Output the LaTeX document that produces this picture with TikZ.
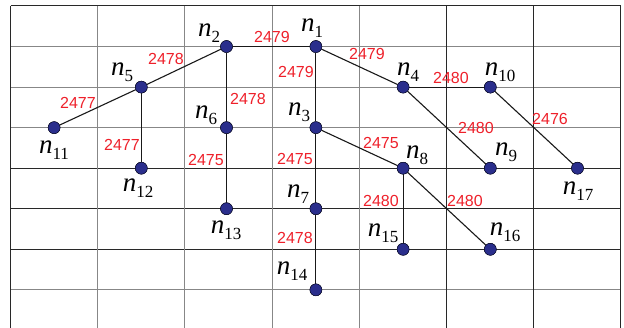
\documentclass[tikz,border=0pt]{standalone}
\usepackage{fontspec}
\setmainfont{Liberation Serif}
\newfontfamily\wfont{Liberation Sans}
\newcommand{\nlab}[1]{{\fontsize{27}{27}\selectfont\itshape n}{\fontsize{17}{17}\selectfont\raisebox{-6pt}{#1}}}
\definecolor{nodeblue}{RGB}{42,46,140}
\definecolor{wred}{RGB}{238,32,42}
\definecolor{gridgray}{RGB}{135,135,135}
\definecolor{griddark}{RGB}{40,40,40}
\begin{document}
\begin{tikzpicture}[x=1pt,y=-1pt,
  vert/.style={circle,fill=nodeblue,draw=black!80!nodeblue,line width=0.4pt,minimum size=12pt,inner sep=0pt},
  nlabel/.style={inner sep=0pt,anchor=center},
  wlabel/.style={inner sep=0pt,anchor=center,text=wred,font=\wfont\fontsize{16}{16}\selectfont},
  edge/.style={line width=1.1pt,black!90},
  gl/.style={line width=1pt,gridgray},
  gd/.style={line width=1pt,griddark}]
\useasboundingbox (0,0) rectangle (624,328);
\begin{scope}
\clip (0,0) rectangle (624,328);
% horizontal grid lines
\draw[gd] (10.5,6) -- (620.9,6);
\draw[gl] (10.5,46.55) -- (620.9,46.55);
\draw[gl] (10.5,87.1) -- (620.9,87.1);
\draw[gl] (10.5,127.65) -- (620.9,127.65);
\draw[gd] (10.5,168.2) -- (620.9,168.2);
\draw[gd] (10.5,208.75) -- (620.9,208.75);
\draw[gd] (10.5,249.3) -- (620.9,249.3);
\draw[gl] (10.5,289.85) -- (620.9,289.85);
% vertical grid lines
\draw[gd] (10.5,6) -- (10.5,330);
\draw[gl] (97.7,6) -- (97.7,330);
\draw[gl] (184.9,6) -- (184.9,330);
\draw[gl] (272.1,6) -- (272.1,330);
\draw[gl] (359.3,6) -- (359.3,330);
\draw[gd] (446.5,6) -- (446.5,330);
\draw[gd] (533.7,6) -- (533.7,330);
\draw[gd] (620.9,6) -- (620.9,330);
\end{scope}
% vertices
\node[vert] (n1)  at (315.9,46.55) {};
\node[vert] (n2)  at (226.5,46.55) {};
\node[vert] (n3)  at (315.9,127.65) {};
\node[vert] (n4)  at (403.1,87.1) {};
\node[vert] (n5)  at (141.3,87.1) {};
\node[vert] (n6)  at (226.5,127.65) {};
\node[vert] (n7)  at (315.9,208.75) {};
\node[vert] (n8)  at (403.1,168.2) {};
\node[vert] (n9)  at (490.3,168.2) {};
\node[vert] (n10) at (490.3,87.1) {};
\node[vert] (n11) at (54.1,127.65) {};
\node[vert] (n12) at (141.3,168.2) {};
\node[vert] (n13) at (226.5,208.75) {};
\node[vert] (n14) at (315.9,289.85) {};
\node[vert] (n15) at (403.1,249.3) {};
\node[vert] (n16) at (490.3,249.3) {};
\node[vert] (n17) at (577.5,168.2) {};
% edges
\draw[edge] (n2) -- (n1);
\draw[edge] (n1) -- (n4);
\draw[edge] (n4) -- (n10);
\draw[edge] (n1) -- (n3);
\draw[edge] (n3) -- (n7);
\draw[edge] (n7) -- (n14);
\draw[edge] (n2) -- (n5);
\draw[edge] (n2) -- (n6);
\draw[edge] (n6) -- (n13);
\draw[edge] (n5) -- (n11);
\draw[edge] (n5) -- (n12);
\draw[edge] (n3) -- (n8);
\draw[edge] (n4) -- (n9);
\draw[edge] (n10) -- (n17);
\draw[edge] (n8) -- (n15);
\draw[edge] (n8) -- (n16);
% redraw vertices on top
\foreach \v in {n1,n2,n3,n4,n5,n6,n7,n8,n9,n10,n11,n12,n13,n14,n15,n16,n17}
  \fill[nodeblue,draw=black!80!nodeblue,line width=0.4pt] (\v.center) circle (6pt);
% vertex labels
\node[nlabel] (l1)  at (312,28) {\nlab{1}};
\node[nlabel] (l2)  at (209,33) {\nlab{2}};
\node[nlabel] (l3)  at (299,112) {\nlab{3}};
\node[nlabel] (l4)  at (408,72) {\nlab{4}};
\node[nlabel] (l5)  at (122,72) {\nlab{5}};
\node[nlabel] (l6)  at (206,115) {\nlab{6}};
\node[nlabel] (l7)  at (298,194) {\nlab{7}};
\node[nlabel] (l8)  at (417,155) {\nlab{8}};
\node[nlabel] (l9)  at (506,152) {\nlab{9}};
\node[nlabel] (l10) at (500,72) {\nlab{10}};
\node[nlabel] (l11) at (54,150) {\nlab{11}};
\node[nlabel] (l12) at (138,188) {\nlab{12}};
\node[nlabel] (l13) at (226,230) {\nlab{13}};
\node[nlabel] (l14) at (292,271) {\nlab{14}};
\node[nlabel] (l15) at (383,233) {\nlab{15}};
\node[nlabel] (l16) at (505,232) {\nlab{16}};
\node[nlabel] (l17) at (578,191) {\nlab{17}};
% weights
\node[wlabel] (w21)  at (272,37) {2479};
\node[wlabel] (w14)  at (367,54) {2479};
\node[wlabel] (w13)  at (296,72) {2479};
\node[wlabel] (w25)  at (166,59) {2478};
\node[wlabel] (w511) at (78,103) {2477};
\node[wlabel] (w26)  at (248,99) {2478};
\node[wlabel] (w410) at (451,78) {2480};
\node[wlabel] (w49)  at (476,128) {2480};
\node[wlabel] (w1017) at (550,119) {2476};
\node[wlabel] (w512) at (122,145) {2477};
\node[wlabel] (w613) at (206,160) {2475};
\node[wlabel] (w37)  at (295,159) {2475};
\node[wlabel] (w38)  at (381,143) {2475};
\node[wlabel] (w815) at (381,201) {2480};
\node[wlabel] (w816) at (465,201) {2480};
\node[wlabel] (w714) at (295,238) {2478};
\end{tikzpicture}
\end{document}
